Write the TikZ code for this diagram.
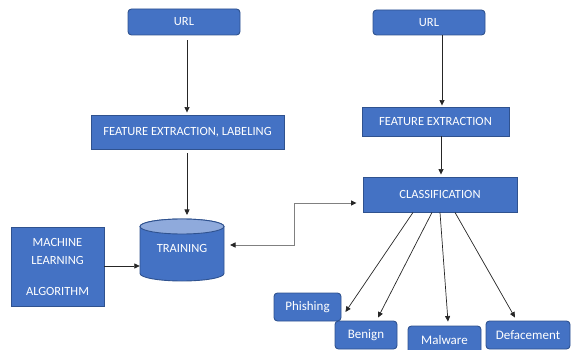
\documentclass[tikz,border=0pt]{standalone}
\usepackage{fontspec}
\setmainfont{Carlito}
\usetikzlibrary{arrows.meta}
\definecolor{boxfill}{HTML}{4472C4}
\definecolor{boxline}{HTML}{2F528F}
\definecolor{cyltop}{HTML}{8FAADC}
\begin{document}
\begin{tikzpicture}[x=1pt,y=-1pt,
  box/.style={draw=boxline,fill=boxfill,line width=0.9pt,text=white,font=\fontsize{12.5}{14}\selectfont,inner sep=0pt,align=center},
  rbox/.style={box,rounded corners=3.5pt},
  lbox/.style={rbox,font=\fontsize{13}{15}\selectfont},
  conn/.style={draw=black!85,line width=0.7pt,-{Triangle[length=5.5pt,width=5pt]}},
  gconn/.style={draw=black!50,line width=0.9pt,{Triangle[length=5.5pt,width=5pt,color=black!85]}-{Triangle[length=5.5pt,width=5pt,color=black!85]}}]
\useasboundingbox (0,0) rectangle (571,350);
\clip (0,0) rectangle (571,350);

\node[rbox,minimum width=112pt,minimum height=26pt] (url1) at (184,22) {URL};
\node[box,minimum width=193pt,minimum height=34pt] (fel) at (187.5,132) {FEATURE EXTRACTION, LABELING};
\node[rbox,minimum width=112pt,minimum height=25pt] (url2) at (429,22.5) {URL};
\node[box,minimum width=147pt,minimum height=29pt] (fe) at (435.5,121.5) {FEATURE EXTRACTION};
\node[box,minimum width=154pt,minimum height=35pt] (cls) at (440,194.5) {CLASSIFICATION};
\node[box,minimum width=93pt,minimum height=79pt,font=\fontsize{12.5}{18}\selectfont] (ml) at (57.5,266.5) {MACHINE\\LEARNING\\[13pt]ALGORITHM};

% cylinder
\fill[boxfill,draw=boxline,line width=0.9pt] (140,226.5) -- (140,273.5) arc[start angle=180,end angle=360,x radius=42,y radius=-7.5] -- (224,226.5) arc[start angle=0,end angle=180,x radius=42,y radius=-7.5] -- cycle;
\filldraw[fill=cyltop,draw=boxline,line width=0.9pt] (182,226.5) ellipse[x radius=42,y radius=7.5];
\node[minimum width=84pt,minimum height=62pt,inner sep=0pt] (training) at (182,250) {};
\node[text=white,font=\fontsize{12.5}{14}\selectfont,inner sep=0pt] (trlabel) at (182,248) {TRAINING};
\coordinate (trTop) at (187,215);
\coordinate (trRight) at (230,245);

\node[lbox,minimum width=67pt,minimum height=28pt] (phishing) at (307.5,307) {Phishing};
\node[lbox,minimum width=62pt,minimum height=28pt] (benign) at (366,335) {Benign};
\node[lbox,minimum width=73pt,minimum height=28pt] (malware) at (444.5,340) {Malware};
\node[lbox,minimum width=84pt,minimum height=28pt] (defacement) at (528,335) {Defacement};

% connectors
\draw[conn,shorten <=5pt,shorten >=2pt] ([xshift=3pt]url1.south) -- ([xshift=-0.5pt]fel.north);
\draw[conn,shorten <=4pt] ([xshift=-0.5pt]fel.south) -- (trTop);
\draw[conn,shorten >=1pt] ([xshift=13pt]url2.south) -- ([xshift=6.5pt]fe.north);
\draw[conn,shorten >=2pt] ([xshift=1pt]cls.north |- fe.south) -- ([xshift=1pt]cls.north);
\draw[conn] (ml.east |- 0,266) -- (training.west |- 0,266);
\draw[gconn,shorten >=6pt] (trRight) -- (294,245) |- ([yshift=-8.5pt]cls.west);
\draw[conn] ([xshift=-27pt]cls.south) -- ([xshift=4pt,yshift=-5pt]phishing.east);
\draw[conn] ([xshift=-8pt]cls.south) -- ([xshift=12pt,yshift=3pt]benign.north);
\draw[conn] (cls.south) -- ([xshift=3.5pt,yshift=4pt]malware.north);
\draw[conn] ([xshift=15pt]cls.south) -- ([xshift=-13pt,yshift=3pt]defacement.north);
\end{tikzpicture}
\end{document}
